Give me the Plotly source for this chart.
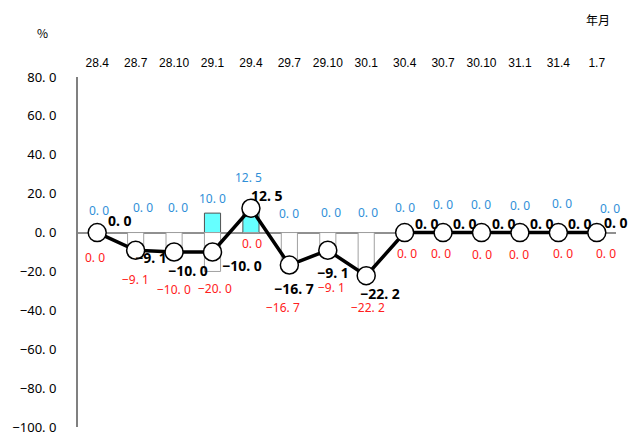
import plotly.graph_objects as go

# ---- data ----
categories = ["28.4", "28.7", "28.10", "29.1", "29.4", "29.7", "29.10",
              "30.1", "30.4", "30.7", "30.10", "31.1", "31.4", "1.7"]
positive = [0.0, 0.0, 0.0, 10.0, 12.5, 0.0, 0.0, 0.0, 0.0, 0.0, 0.0, 0.0, 0.0, 0.0]
negative = [0.0, -9.1, -10.0, -20.0, 0.0, -16.7, -9.1, -22.2, 0.0, 0.0, 0.0, 0.0, 0.0, 0.0]
net = [0.0, -9.1, -10.0, -10.0, 12.5, -16.7, -9.1, -22.2, 0.0, 0.0, 0.0, 0.0, 0.0, 0.0]
y_ticks = [80, 60, 40, 20, 0, -20, -40, -60, -80, -100]

# ---- label placement (style: pixel offsets dx, dy-up, as placed by hand in the original) ----
blue_offsets = [(2, 22), (7, 25), (4, 25), (0, 15), (-2, 31), (0, 19), (3, 20),
                (2, 20), (0, 25), (0, 28), (-1, 28), (0, 27), (4, 29), (13, 24)]
red_offsets = [(-2, -25), (0, -29), (0, -37), (2, -17), (1, -11), (-6, -42), (4, -37),
               (2, -32), (2, -21), (-2, -21), (0, -22), (-1, -22), (5, -21), (9, -21)]
black_offsets = [(23, 12), (15, -7), (14, -18), (29, -13), (16, 13), (5, -23), (5, -22),
                 (14, -18), (22, 9), (22, 9), (22, 9), (22, 9), (22, 9), (19, 10)]


def fmt(v):
    s = f"{abs(v):.1f}".replace(".", ". ")
    return ("−" + s) if v < 0 else s


FONT = "Noto Sans CJK JP"
NUM = "Noto Sans"
OFF = 8  # page body margin
W, H = 636 - OFF, 441 - OFF
L, T = 78 - OFF, 77 - OFF
R = W - (616 - OFF)
B = H - (427 - OFF)

fig = go.Figure()

fig.add_trace(go.Bar(
    x=categories, y=positive,
    marker=dict(color="#66FFFF", line=dict(color="#505050", width=1)),
    width=0.42, hoverinfo="skip",
))
fig.add_trace(go.Bar(
    x=categories, y=negative,
    marker=dict(color="#FFFFFF", line=dict(color="#A0A0A0", width=1)),
    width=0.42, hoverinfo="skip",
))
fig.add_trace(go.Scatter(
    x=categories, y=net, mode="lines+markers",
    line=dict(color="#000000", width=3.5),
    marker=dict(size=18, color="#FFFFFF", line=dict(color="#000000", width=1.5)),
    hoverinfo="skip",
))

annotations = []
for i, (p, n, v) in enumerate(zip(positive, negative, net)):
    annotations.append(dict(
        x=i, y=p, xref="x", yref="y", text=fmt(p), showarrow=False,
        xshift=blue_offsets[i][0], yshift=blue_offsets[i][1],
        font=dict(family=NUM, size=12, color="#2F8FD8"),
    ))
    annotations.append(dict(
        x=i, y=n, xref="x", yref="y", text=fmt(n), showarrow=False,
        xshift=red_offsets[i][0], yshift=red_offsets[i][1],
        font=dict(family=NUM, size=12, color="#FF2020"),
    ))
    annotations.append(dict(
        x=i, y=v, xref="x", yref="y", text="<b>" + fmt(v) + "</b>", showarrow=False,
        xshift=black_offsets[i][0], yshift=black_offsets[i][1],
        font=dict(family=NUM, size=14, color="#000000"),
    ))

PW, PH = W - L - R, H - T - B
annotations += [
    dict(text="%", x=(42 - OFF - L) / PW, y=(H - B - (32 - OFF)) / PH,
         xref="paper", yref="paper", showarrow=False, xanchor="center", yanchor="middle",
         font=dict(family=FONT, size=12, color="#000000")),
    dict(text="年月", x=(598 - OFF - L) / PW, y=(H - B - (19 - OFF)) / PH,
         xref="paper", yref="paper", showarrow=False, xanchor="center", yanchor="middle",
         font=dict(family=FONT, size=12, color="#000000")),
]

fig.update_layout(
    width=W, height=H,
    margin=dict(l=L, r=R, t=T, b=B, autoexpand=False),
    paper_bgcolor="white", plot_bgcolor="white",
    showlegend=False, barmode="overlay",
    font=dict(family=FONT, size=12, color="#000000"),
    xaxis=dict(
        type="category", side="top", range=[-0.5, 13.5], automargin=False,
        showgrid=False, showline=False, ticks="",
        tickfont=dict(family="Liberation Sans", size=12, color="#000000"),
        ticklabelstandoff=7,
    ),
    yaxis=dict(
        range=[-100, 80], tickvals=y_ticks, automargin=False,
        ticktext=[fmt(v) for v in y_ticks],
        showgrid=False, showline=True, linecolor="#808080", linewidth=2,
        zeroline=True, zerolinecolor="#909090", zerolinewidth=2,
        ticks="", tickfont=dict(family=NUM, size=13, color="#000000"),
        ticklabelstandoff=17,
    ),
    annotations=annotations,
)

fig.write_html("out.html")
